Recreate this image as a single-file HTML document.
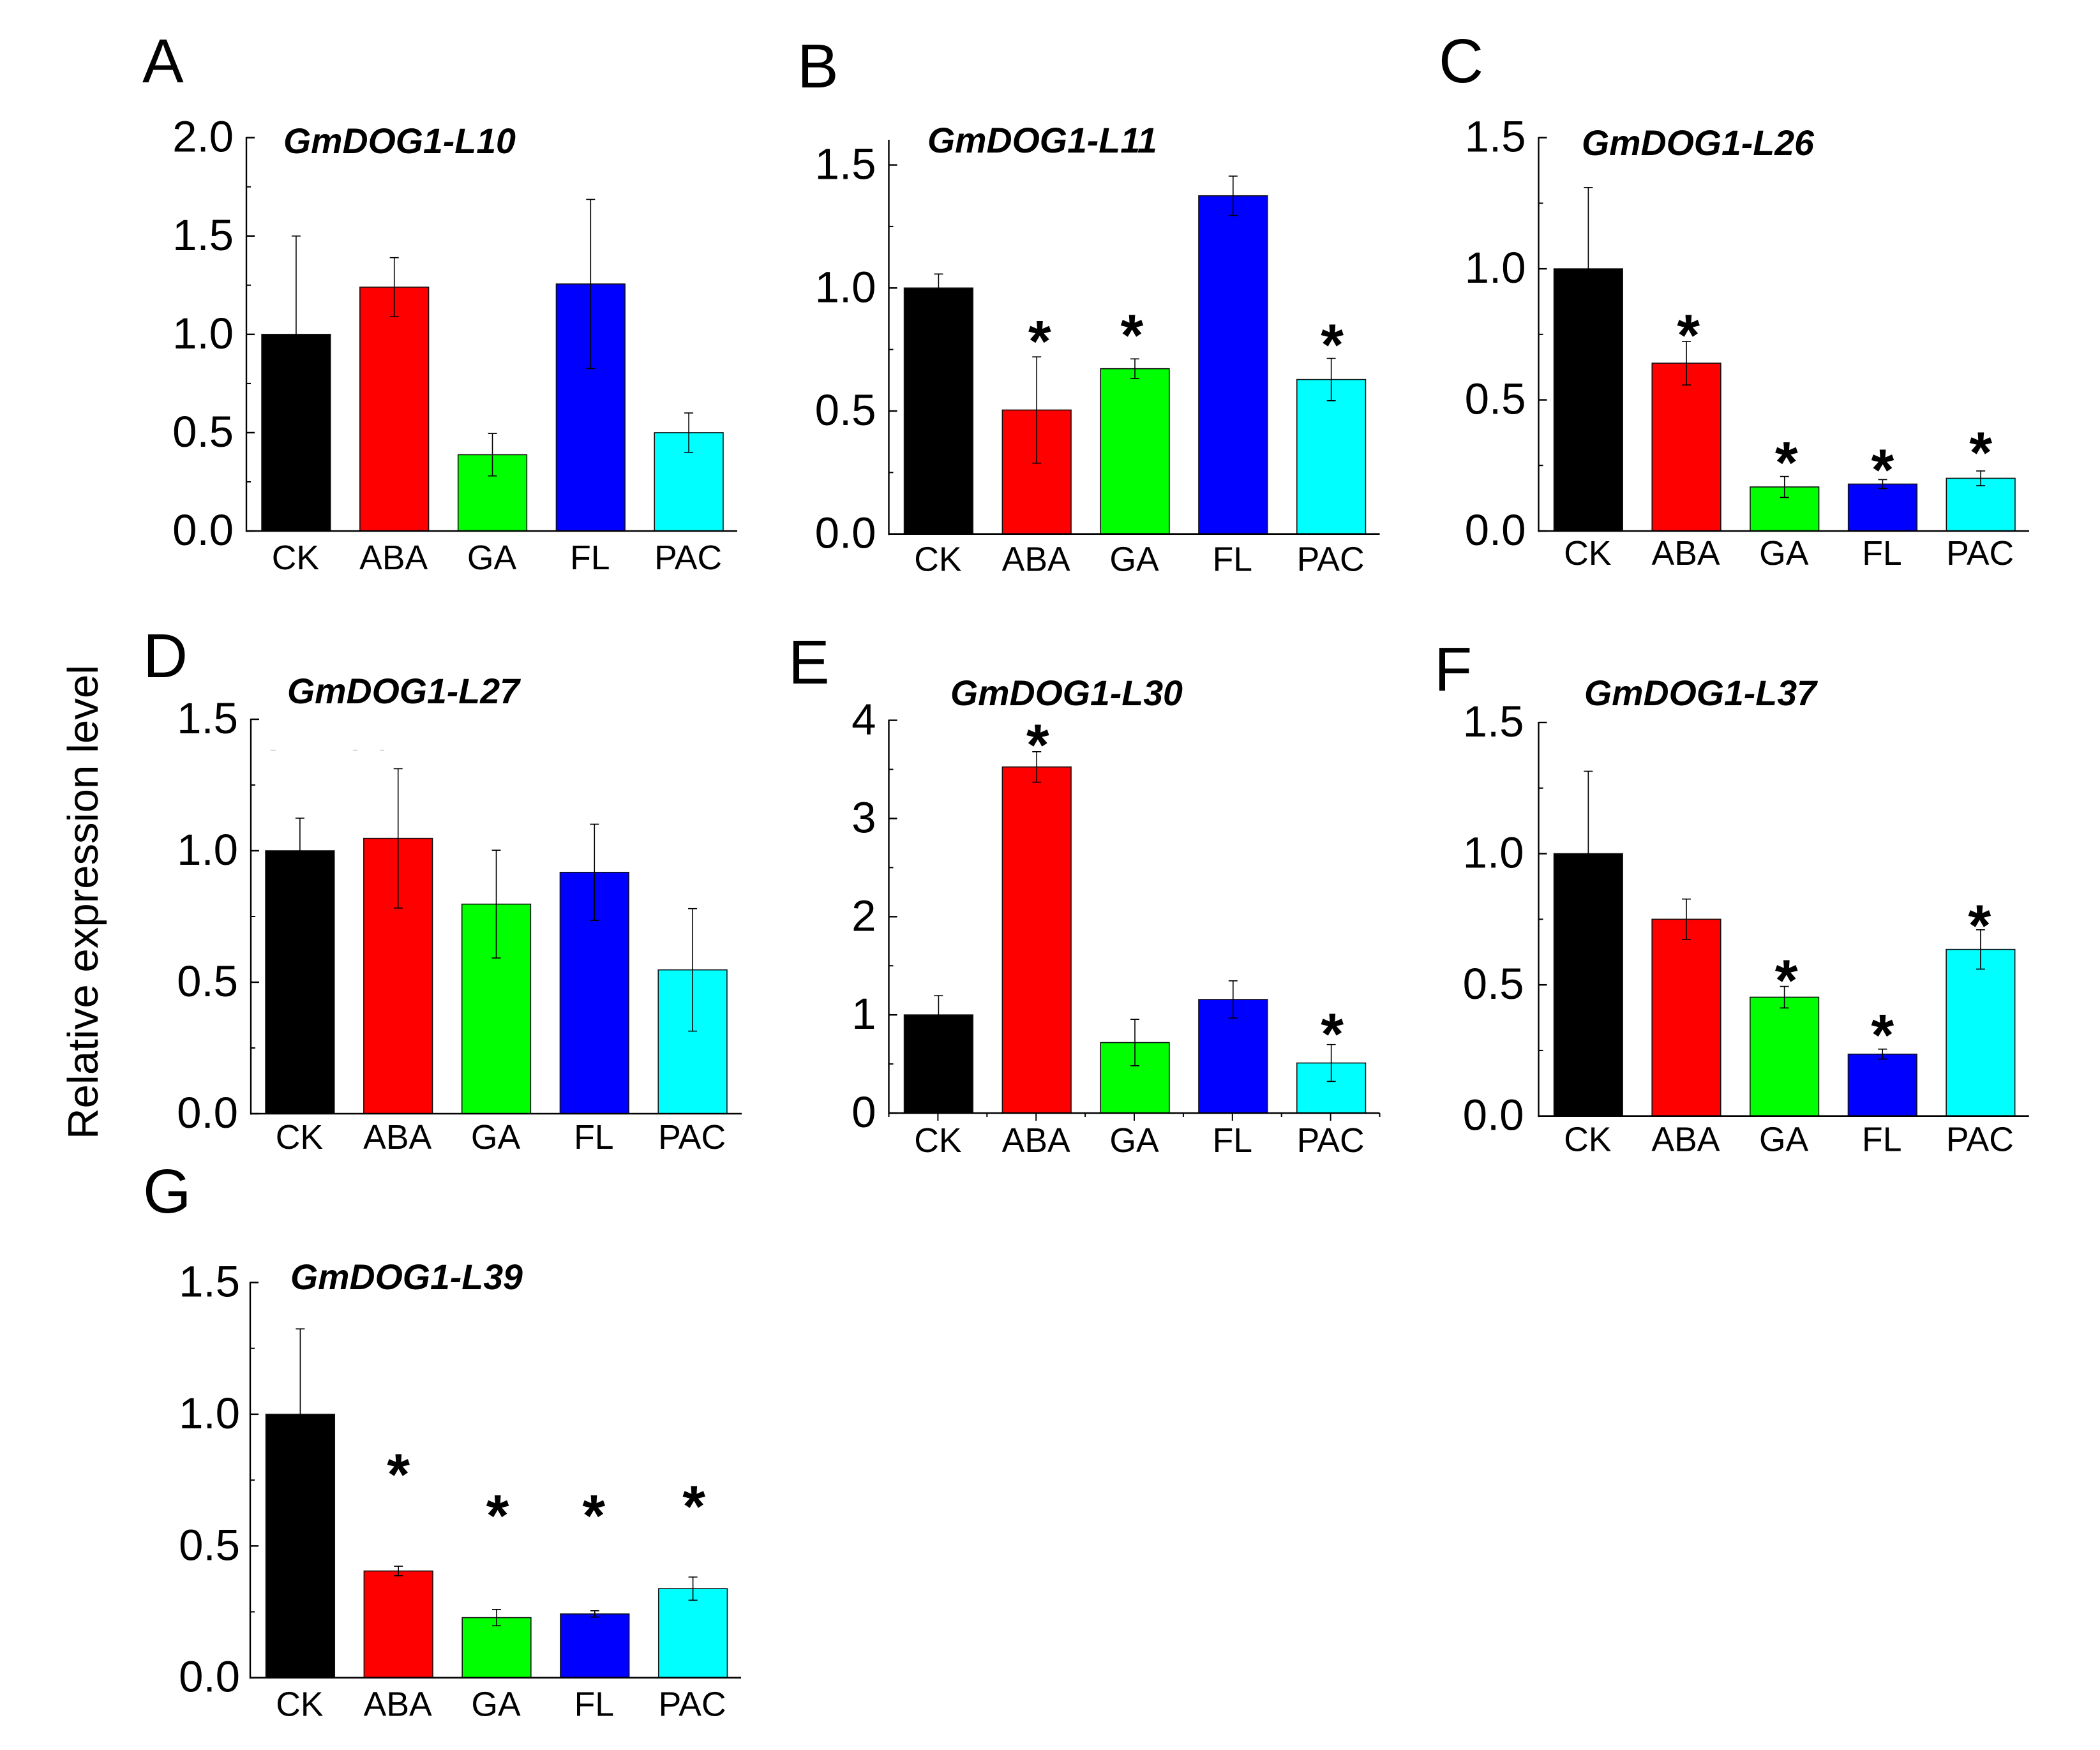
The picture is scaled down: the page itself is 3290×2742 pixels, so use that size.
<!DOCTYPE html>
<html lang="en">
<head>
<meta charset="utf-8">
<title>Relative expression level of GmDOG1-L genes</title>
<style>
html,body{margin:0;padding:0;background:#fff;}
svg{display:block;}
text{font-family:"Liberation Sans",Arial,sans-serif;fill:#000;}
</style>
</head>
<body>
<svg id="figure" xmlns="http://www.w3.org/2000/svg" width="3290" height="2742" viewBox="0 0 3290 2742">
  <rect x="0" y="0" width="3290" height="2742" fill="#ffffff"/>
  <text transform="translate(153,1785) rotate(-90)" font-size="67.2">Relative expression level</text>
  <g stroke="#c8c8c8" stroke-width="1.5">
    <line x1="424" x2="432" y1="1175.5" y2="1175.5"/>
    <line x1="553" x2="560" y1="1175.5" y2="1175.5"/>
    <line x1="595" x2="602" y1="1175.5" y2="1175.5"/>
  </g>
</svg>
<script>
// Shared categories
const categories = ['CK', 'ABA', 'GA', 'FL', 'PAC'];

// Panel A
const valuesA = [1.0, 1.24, 0.388, 1.256, 0.50];
const errorsA = [0.50, 0.15, 0.108, 0.43, 0.10];
const tickLabelsA = ['0.0', '0.5', '1.0', '1.5', '2.0'];
const starCatsA = [];
const starValsA = [];

// Panel B
const valuesB = [1.0, 0.504, 0.672, 1.375, 0.628];
const errorsB = [0.057, 0.216, 0.04, 0.08, 0.086];
const tickLabelsB = ['0.0', '0.5', '1.0', '1.5'];
const starCatsB = [1.03, 1.97, 4.01];
const starValsB = [0.82, 0.845, 0.806];

// Panel C
const valuesC = [1.0, 0.64, 0.168, 0.179, 0.201];
const errorsC = [0.31, 0.083, 0.04, 0.017, 0.028];
const tickLabelsC = ['0.0', '0.5', '1.0', '1.5'];
const starCatsC = [1.02, 2.02, 3.0, 4.0];
const starValsC = [0.781, 0.296, 0.268, 0.334];

// Panel D
const valuesD = [1.0, 1.047, 0.797, 0.918, 0.547];
const errorsD = [0.124, 0.265, 0.205, 0.183, 0.233];
const tickLabelsD = ['0.0', '0.5', '1.0', '1.5'];
const starCatsD = [];
const starValsD = [];

// Panel E
const valuesE = [1.0, 3.525, 0.718, 1.157, 0.51];
const errorsE = [0.196, 0.155, 0.236, 0.19, 0.188];
const tickLabelsE = ['0', '1', '2', '3', '4'];
const starCatsE = [1.01, 4.01];
const starValsE = [3.84, 0.897];

// Panel F
const valuesF = [1.0, 0.75, 0.453, 0.236, 0.635];
const errorsF = [0.314, 0.077, 0.041, 0.019, 0.075];
const tickLabelsF = ['0.0', '0.5', '1.0', '1.5'];
const starCatsF = [2.02, 3.0, 3.99];
const starValsF = [0.551, 0.344, 0.76];

// Panel G
const valuesG = [1.0, 0.405, 0.228, 0.242, 0.338];
const errorsG = [0.324, 0.018, 0.031, 0.012, 0.044];
const tickLabelsG = ['0.0', '0.5', '1.0', '1.5'];
const starCatsG = [1.0, 2.01, 2.99, 4.01];
const starValsG = [0.806, 0.65, 0.65, 0.685];

const SVG_NS = 'http://www.w3.org/2000/svg';
const figure = document.getElementById('figure');
const barColors = ['#000000', '#ff0000', '#00ff00', '#0000ff', '#00ffff'];

function make(tag, parent, props, text) {
  const node = document.createElementNS(SVG_NS, tag);
  for (const key in props) node.setAttribute(key, props[key]);
  if (text !== undefined) node.textContent = text;
  parent.appendChild(node);
  return node;
}

function drawPanel(p) {
  const slug = p.gene.toLowerCase();
  const top = p.axisMax;
  const tickStep = parseFloat(p.ticks[1]) - parseFloat(p.ticks[0]);
  const yOf = v => p.y0 - v / top * (p.y0 - p.yTop);
  const step = (p.x1 - p.x0) / categories.length;
  const xOf = c => p.x0 + (c + 0.5) * step + p.barShift;
  const barW = step * 0.7;

  const g = make('g', figure, {});
  
  

  const letter = make('text', g, { x: p.letterX, y: p.letterY, 'font-size': 97 }, p.letter);
  
  

  const title = make('text', g, { x: p.titleX, y: p.titleY, 'font-size': 55.5, 'font-weight': 'bold', 'font-style': 'italic' }, p.gene);
  
  

  categories.forEach((cat, i) => {
    const x = xOf(i);
    const yTopBar = yOf(p.values[i]);
    const bar = make('rect', g, { x: x - barW / 2, y: yTopBar, width: barW, height: p.y0 - yTopBar, fill: barColors[i], stroke: '#111', 'stroke-width': 1.6 });
    
    

    const hi = yOf(p.values[i] + p.errors[i]);
    const lo = yOf(Math.max(0, p.values[i] - p.errors[i]));
    const err = make('path', g, { d: 'M' + x + ' ' + hi + 'V' + lo + 'M' + (x - 7) + ' ' + hi + 'H' + (x + 7) + 'M' + (x - 7) + ' ' + lo + 'H' + (x + 7), fill: 'none', stroke: '#000', 'stroke-width': 1.6 });
    
    

    const label = make('text', g, { x: x - 1, y: p.y0 + p.labelOffset, 'font-size': 53.5, 'text-anchor': 'middle' }, cat);
    
    
  });

  const yAxis = make('line', g, { x1: p.x0, x2: p.x0, y1: p.yTop - 1, y2: p.y0 + 1.5, stroke: '#000', 'stroke-width': 2.4 });
  
  

  const xAxis = make('line', g, { x1: p.x0 - 1, x2: p.x1, y1: p.y0, y2: p.y0, stroke: '#000', 'stroke-width': 2.6 });
  
  

  p.ticks.forEach(label => {
    const v = parseFloat(label);
    const y = yOf(v);
    const tick = make('line', g, { x1: p.x0, x2: p.x0 + 13, y1: y, y2: y, stroke: '#000', 'stroke-width': 2.4 });
    
    

    const tickText = make('text', g, { x: p.x0 - p.tickGap, y: y + 22, 'font-size': 69, 'text-anchor': 'end' }, label);
    
    

    const mid = v + tickStep / 2;
    if (mid <= top) {
      const minor = make('line', g, { x1: p.x0, x2: p.x0 + 7, y1: yOf(mid), y2: yOf(mid), stroke: '#000', 'stroke-width': 2 });
      
      
    }
  });

  if (p.xTicks) {
    for (let k = 0; k <= categories.length * 2; k++) {
      const x = p.x0 + k * step / 2;
      const tick = make('line', g, { x1: x, x2: x, y1: p.y0, y2: p.y0 + (k % 2 ? 12 : 6), stroke: '#000', 'stroke-width': 2 });
      
      
    }
  }

  p.starCats.forEach((c, i) => {
    const star = make('text', g, { x: xOf(c), y: yOf(p.starVals[i]) + 46, 'font-size': 92, 'font-weight': 'bold', 'text-anchor': 'middle' }, '*');
    
    
  });
}

drawPanel({ letter: 'A', gene: 'GmDOG1-L10', values: valuesA, errors: errorsA, ticks: tickLabelsA, starCats: starCatsA, starVals: starValsA,
  axisMax: 2.0, x0: 386, x1: 1155, y0: 832, yTop: 215.7, labelOffset: 60, tickGap: 20, barShift: 1, letterX: 223, letterY: 129, titleX: 444, titleY: 240 });
drawPanel({ letter: 'B', gene: 'GmDOG1-L11', values: valuesB, errors: errorsB, ticks: tickLabelsB, starCats: starCatsB, starVals: starValsB,
  axisMax: 1.6, x0: 1392.5, x1: 2161.5, y0: 836.7, yTop: 220, labelOffset: 58, tickGap: 20, barShift: 1, letterX: 1249, letterY: 137, titleX: 1453, titleY: 239 });
drawPanel({ letter: 'C', gene: 'GmDOG1-L26', values: valuesC, errors: errorsC, ticks: tickLabelsC, starCats: starCatsC, starVals: starValsC,
  axisMax: 1.5, x0: 2410.5, x1: 3179, y0: 832, yTop: 215.7, labelOffset: 53, tickGap: 20, barShift: 1, letterX: 2254, letterY: 129, titleX: 2478, titleY: 243 });
drawPanel({ letter: 'D', gene: 'GmDOG1-L27', values: valuesD, errors: errorsD, ticks: tickLabelsD, starCats: starCatsD, starVals: starValsD,
  axisMax: 1.5, x0: 393, x1: 1162, y0: 1745, yTop: 1127, labelOffset: 55, tickGap: 20, barShift: 0, letterX: 224, letterY: 1061, titleX: 450, titleY: 1102 });
drawPanel({ letter: 'E', gene: 'GmDOG1-L30', values: valuesE, errors: errorsE, ticks: tickLabelsE, starCats: starCatsE, starVals: starValsE,
  axisMax: 4, x0: 1392.5, x1: 2161.5, y0: 1744, yTop: 1128.6, labelOffset: 61, tickGap: 20, barShift: 1, letterX: 1235, letterY: 1071, titleX: 1489, titleY: 1105, xTicks: true });
drawPanel({ letter: 'F', gene: 'GmDOG1-L37', values: valuesF, errors: errorsF, ticks: tickLabelsF, starCats: starCatsF, starVals: starValsF,
  axisMax: 1.5, x0: 2410.5, x1: 3178.7, y0: 1748.7, yTop: 1132, labelOffset: 55, tickGap: 23, barShift: 1, letterX: 2247, letterY: 1082, titleX: 2482, titleY: 1105 });
drawPanel({ letter: 'G', gene: 'GmDOG1-L39', values: valuesG, errors: errorsG, ticks: tickLabelsG, starCats: starCatsG, starVals: starValsG,
  axisMax: 1.5, x0: 392, x1: 1161, y0: 2628.7, yTop: 2009.5, labelOffset: 60, tickGap: 16, barShift: 1.5, letterX: 224, letterY: 1900, titleX: 455, titleY: 2020 });
</script>
</body>
</html>
